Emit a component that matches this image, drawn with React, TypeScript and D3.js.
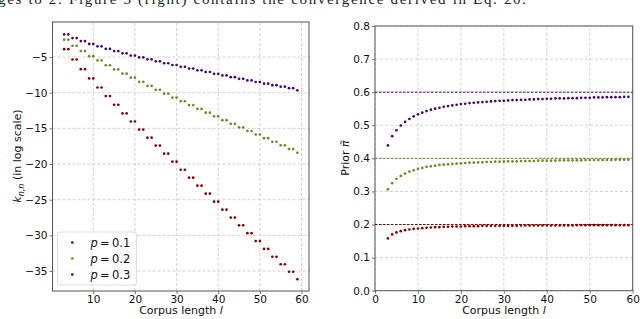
import React, { useEffect, useRef } from 'react';
import * as d3 from 'd3';

// corpus lengths l (x values shared by every series)
const corpusLengths = [
  3, 4, 5, 6, 7, 8, 9, 10, 11, 12, 13, 14, 15, 16, 17, 18, 19, 20, 21, 22,
  23, 24, 25, 26, 27, 28, 29, 30, 31, 32, 33, 34, 35, 36, 37, 38, 39, 40, 41, 42,
  43, 44, 45, 46, 47, 48, 49, 50, 51, 52, 53, 54, 55, 56, 57, 58, 59,
];

const seriesLabels = ['p = 0.1', 'p = 0.2', 'p = 0.3'];
const seriesColors = ['#8b0000', '#6b8e23', '#4b0082'];
const priorTargets = [0.2, 0.4, 0.6];

// left panel: k_{n,n} in log scale
const logK01 = [
  -3.9, -3.9, -5.35, -5.35, -6.7, -6.7, -8.0, -8.0, -9.27, -9.27,
  -10.48, -10.48, -11.7, -11.7, -12.9, -12.9, -14.04, -14.04, -15.17, -15.17,
  -16.3, -16.3, -17.42, -17.42, -18.55, -18.55, -19.67, -19.67, -20.8, -20.8,
  -21.92, -21.92, -23.04, -23.04, -24.16, -24.16, -25.28, -25.28, -26.4, -26.4,
  -27.5, -27.5, -28.6, -28.6, -29.7, -29.7, -30.8, -30.8, -31.9, -31.9,
  -33.0, -33.0, -34.05, -34.05, -35.1, -35.1, -36.15,
];
const logK02 = [
  -2.57, -2.57, -3.42, -3.42, -4.16, -4.16, -4.88, -4.88, -5.48, -5.48,
  -6.15, -6.15, -6.74, -6.74, -7.34, -7.34, -7.9, -7.9, -8.48, -8.48,
  -9.05, -9.05, -9.6, -9.6, -10.14, -10.14, -10.68, -10.68, -11.2, -11.2,
  -11.74, -11.74, -12.28, -12.28, -12.8, -12.8, -13.32, -13.32, -13.85, -13.85,
  -14.36, -14.36, -14.86, -14.86, -15.37, -15.37, -15.86, -15.86, -16.37, -16.37,
  -16.88, -16.88, -17.38, -17.38, -17.9, -17.9, -18.42,
];
const logK03 = [
  -1.83, -1.83, -2.34, -2.34, -2.76, -2.76, -3.16, -3.16, -3.5, -3.5,
  -3.86, -3.86, -4.16, -4.16, -4.48, -4.48, -4.8, -4.8, -5.05, -5.05,
  -5.32, -5.32, -5.6, -5.6, -5.87, -5.87, -6.12, -6.12, -6.37, -6.37,
  -6.62, -6.62, -6.87, -6.87, -7.1, -7.1, -7.35, -7.35, -7.58, -7.58,
  -7.83, -7.83, -8.05, -8.05, -8.28, -8.28, -8.5, -8.5, -8.73, -8.73,
  -8.95, -8.95, -9.16, -9.16, -9.37, -9.37, -9.67,
];

// right panel: prior pi-tilde
const prior01 = [
  0.158, 0.170, 0.176, 0.180, 0.183, 0.185, 0.187, 0.188, 0.189, 0.190,
  0.191, 0.192, 0.192, 0.193, 0.193, 0.194, 0.194, 0.194, 0.195, 0.195,
  0.195, 0.195, 0.196, 0.196, 0.196, 0.196, 0.196, 0.196, 0.196, 0.196,
  0.196, 0.197, 0.197, 0.197, 0.197, 0.197, 0.197, 0.197, 0.197, 0.197,
  0.197, 0.197, 0.197, 0.197, 0.198, 0.198, 0.198, 0.198, 0.198, 0.198,
  0.198, 0.198, 0.198, 0.198, 0.198, 0.198, 0.198,
];
const prior02 = [
  0.306, 0.325, 0.338, 0.347, 0.354, 0.360, 0.364, 0.368, 0.371, 0.374,
  0.376, 0.378, 0.380, 0.381, 0.382, 0.383, 0.384, 0.385, 0.386, 0.387,
  0.387, 0.388, 0.388, 0.389, 0.389, 0.390, 0.390, 0.390, 0.391, 0.391,
  0.391, 0.392, 0.392, 0.392, 0.392, 0.393, 0.393, 0.393, 0.393, 0.393,
  0.394, 0.394, 0.394, 0.394, 0.394, 0.394, 0.395, 0.395, 0.395, 0.395,
  0.395, 0.395, 0.395, 0.396, 0.396, 0.396, 0.396,
];
const prior03 = [
  0.439, 0.467, 0.485, 0.499, 0.510, 0.519, 0.527, 0.533, 0.538, 0.543,
  0.547, 0.550, 0.553, 0.556, 0.558, 0.560, 0.562, 0.564, 0.565, 0.567,
  0.568, 0.569, 0.570, 0.571, 0.572, 0.573, 0.574, 0.574, 0.575, 0.576,
  0.576, 0.577, 0.577, 0.578, 0.578, 0.579, 0.579, 0.580, 0.580, 0.581,
  0.581, 0.581, 0.582, 0.582, 0.582, 0.583, 0.583, 0.583, 0.584, 0.584,
  0.584, 0.585, 0.585, 0.585, 0.585, 0.586, 0.586,
];

const leftXTicks = [10, 20, 30, 40, 50, 60];
const leftYTicks = [-35, -30, -25, -20, -15, -10, -5];
const rightXTicks = [0, 10, 20, 30, 40, 50, 60];
const rightYTicks = [0, 0.1, 0.2, 0.3, 0.4, 0.5, 0.6, 0.7, 0.8];

const captionText = 'ges to 2. Figure 5 (right) contains the convergence derived in Eq. 20.';

const W = 640;
const H = 319;
const FONT = '"DejaVu Sans", sans-serif';

type Sel = d3.Selection<SVGGElement, unknown, null, undefined>;

function drawPanel(
  g: Sel,
  x: d3.ScaleLinear<number, number>,
  y: d3.ScaleLinear<number, number>,
  xTicks: number[],
  yTicks: number[],
  yFmt: (v: number) => string,
) {
  const [x0, x1] = x.range();
  const [y0, y1] = y.range();

  // grid
  const grid = g.append('g');
  xTicks.forEach(t => {
    grid.append('line')
      .attr('x1', x(t)).attr('x2', x(t))
      .attr('y1', y0).attr('y2', y1)
      .attr('stroke', '#c8c8c8').attr('stroke-width', 0.8)
      .attr('stroke-dasharray', '3,2');
  });
  yTicks.forEach(t => {
    grid.append('line')
      .attr('x1', x0).attr('x2', x1)
      .attr('y1', y(t)).attr('y2', y(t))
      .attr('stroke', '#c8c8c8').attr('stroke-width', 0.8)
      .attr('stroke-dasharray', '3,2');
  });

  // axes
  const xa = g.append('g')
    .attr('transform', `translate(0,${y0})`)
    .call(d3.axisBottom(x).tickValues(xTicks).tickSize(3).tickPadding(1.5).tickFormat(d3.format('d')));
  const ya = g.append('g')
    .attr('transform', `translate(${x0},0)`)
    .call(d3.axisLeft(y).tickValues(yTicks).tickSize(3).tickPadding(2).tickFormat(v => yFmt(+v)));
  [xa, ya].forEach(a => {
    a.select('.domain').remove();
    a.selectAll('line').attr('stroke', '#555').attr('stroke-width', 0.8);
    a.selectAll('text')
      .style('font-family', FONT)
      .style('font-size', '10.5px')
      .attr('fill', '#111');
  });

  // frame
  g.append('rect')
    .attr('x', x0).attr('y', y1)
    .attr('width', x1 - x0).attr('height', y0 - y1)
    .attr('fill', 'none').attr('stroke', '#555').attr('stroke-width', 1);
}

function App() {
  const svgRef = useRef<SVGSVGElement>(null);

  useEffect(() => {
    if (!svgRef.current) return;
    const svg = d3.select(svgRef.current);
    svg.selectAll('*').remove();

    // cropped caption line from the paper above the figure
    svg.append('text')
      .attr('x', -2)
      .attr('y', 4)
      .attr('textLength', 528)
      .style('font-family', '"Liberation Serif", serif')
      .style('font-size', '15px')
      .attr('fill', '#222')
      .text(captionText);

    // ---- left panel ----
    const xL = d3.scaleLinear().domain([0.2, 61.8]).range([52.5, 309]);
    const yL = d3.scaleLinear().domain([-37.8, -0.09]).range([291, 22]);
    const gL = svg.append('g') as unknown as Sel;
    drawPanel(gL, xL, yL, leftXTicks, leftYTicks, v => (v < 0 ? '\u2212' + Math.abs(v) : String(v)));

    const leftSeries = [logK01, logK02, logK03];
    leftSeries.forEach((vals, si) => {
      gL.append('g').selectAll('circle')
        .data(vals)
        .enter()
        .append('circle')
        .attr('cx', (_, i) => xL(corpusLengths[i]))
        .attr('cy', d => yL(d))
        .attr('r', 1.35)
        .attr('fill', seriesColors[si]);
    });

    // legend
    const leg = gL.append('g').attr('transform', 'translate(57.5,232)');
    leg.append('rect')
      .attr('width', 79).attr('height', 53).attr('rx', 2.5)
      .attr('fill', 'rgba(255,255,255,0.85)')
      .attr('stroke', '#d6d6d6').attr('stroke-width', 0.8);
    seriesLabels.forEach((lab, i) => {
      const row = leg.append('g').attr('transform', `translate(0,${10.5 + i * 16})`);
      row.append('circle').attr('cx', 14.8).attr('cy', 0).attr('r', 1.35).attr('fill', seriesColors[i]);
      const parts = lab.split(' = ');
      const t = row.append('text')
        .attr('x', 33).attr('y', 4.2)
        .style('font-family', FONT)
        .style('font-size', '11.5px')
        .attr('fill', '#111');
      t.append('tspan').style('font-style', 'italic').text(parts[0]);
      t.append('tspan').text('\u2009=\u2009' + parts[1]);
    });

    // axis labels
    gL.append('text')
      .attr('x', 181).attr('y', 314)
      .attr('text-anchor', 'middle')
      .style('font-family', FONT).style('font-size', '11px').attr('fill', '#111')
      .call(t => {
        t.append('tspan').text('Corpus length ');
        t.append('tspan').style('font-style', 'italic').text('l');
      });
    gL.append('text')
      .attr('transform', 'translate(21,156) rotate(-90)')
      .attr('text-anchor', 'middle')
      .style('font-family', FONT).style('font-size', '11px').attr('fill', '#111')
      .call(t => {
        t.append('tspan').style('font-style', 'italic').text('k');
        t.append('tspan').attr('dy', 2.5).style('font-size', '8px').style('font-style', 'italic').text('n,n');
        t.append('tspan').attr('dy', -2.5).text(' (in log scale)');
      });

    // ---- right panel ----
    const xR = d3.scaleLinear().domain([0, 60]).range([375, 632.7]);
    const yR = d3.scaleLinear().domain([0, 0.8]).range([290.7, 26]);
    const gR = svg.append('g') as unknown as Sel;
    drawPanel(gR, xR, yR, rightXTicks, rightYTicks, d3.format('.1f'));

    priorTargets.forEach((p, i) => {
      gR.append('line')
        .attr('x1', xR(0)).attr('x2', xR(60))
        .attr('y1', yR(p)).attr('y2', yR(p))
        .attr('stroke', seriesColors[i]).attr('stroke-width', 1)
        .attr('stroke-dasharray', '2.5,1.5');
    });

    const rightSeries = [prior01, prior02, prior03];
    rightSeries.forEach((vals, si) => {
      gR.append('g').selectAll('circle')
        .data(vals)
        .enter()
        .append('circle')
        .attr('cx', (_, i) => xR(corpusLengths[i]))
        .attr('cy', d => yR(d))
        .attr('r', 1.35)
        .attr('fill', seriesColors[si]);
    });

    gR.append('text')
      .attr('x', 504).attr('y', 314)
      .attr('text-anchor', 'middle')
      .style('font-family', FONT).style('font-size', '11px').attr('fill', '#111')
      .call(t => {
        t.append('tspan').text('Corpus length ');
        t.append('tspan').style('font-style', 'italic').text('l');
      });
    gR.append('text')
      .attr('transform', 'translate(348.5,158) rotate(-90)')
      .attr('text-anchor', 'middle')
      .style('font-family', FONT).style('font-size', '11px').attr('fill', '#111')
      .call(t => {
        t.append('tspan').text('Prior ');
        t.append('tspan').style('font-style', 'italic').text('\u03c0\u0303');
      });
  }, []);

  return (
    <div style={{ position: 'fixed', left: 0, top: 0, width: W, height: H, background: '#fff' }}>
      <svg ref={svgRef} width={W} height={H} />
    </div>
  );
}

export default App;
